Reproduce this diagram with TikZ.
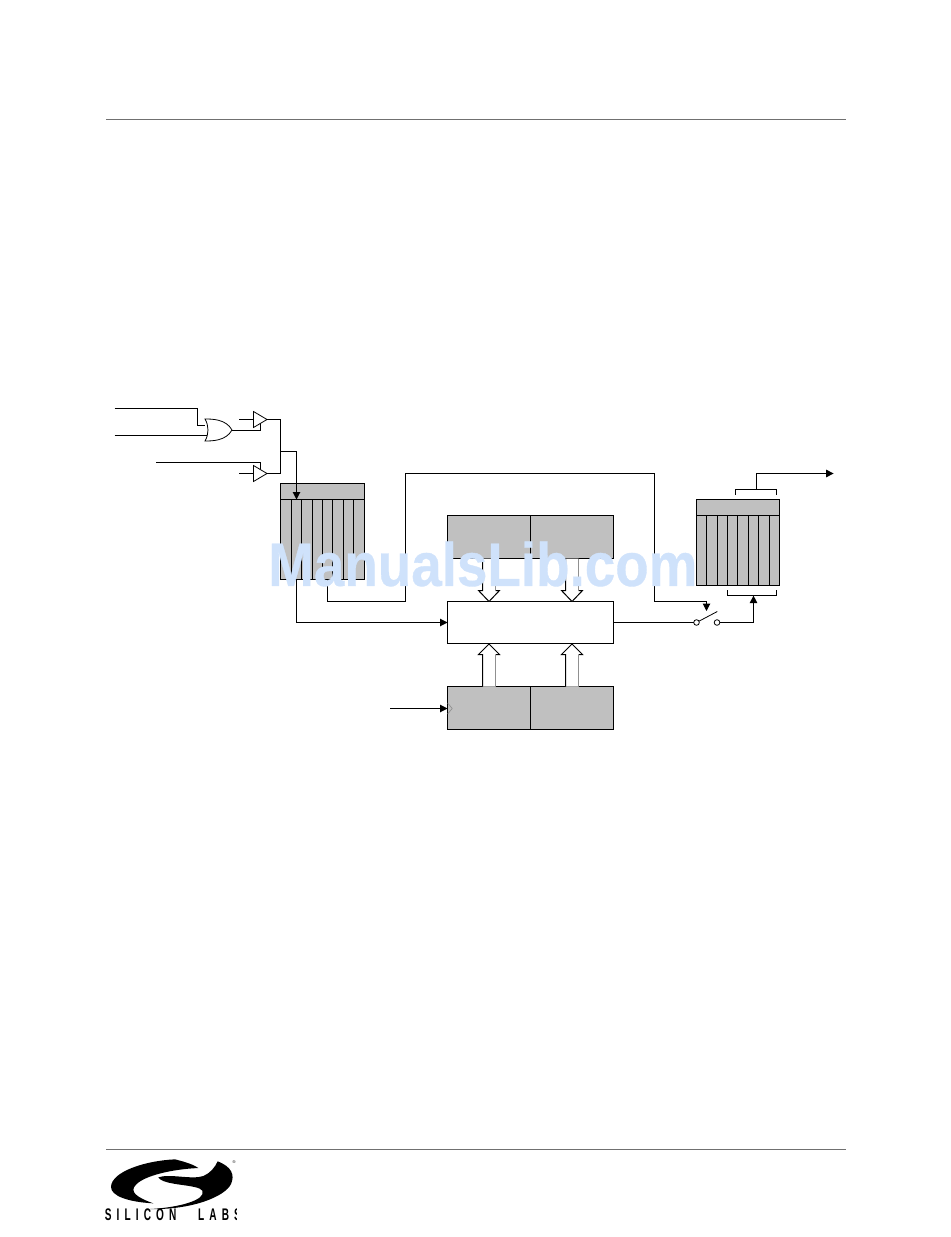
\documentclass[tikz,border=0pt]{standalone}
\usepackage{fontspec}
\setmainfont{Liberation Sans}
\usetikzlibrary{arrows.meta,calc}
\newdimen\pxu \pxu=.75pt
\tikzset{
  x=.75pt,y=-.75pt,
  wire/.style={line width=.75pt,line join=miter},
  flow/.style={wire,-{Triangle[length=5.6pt,width=5.6pt]}},
  regbox/.style={draw,line width=.75pt,fill=regfill,inner sep=0pt,outer sep=0pt,anchor=north west},
  plainbox/.style={regbox,fill=white},
  cellline/.style={line width=.75pt},
  pagerule/.style={line width=.75pt,draw=rulegray},
  swpin/.style={circle,draw,line width=.6pt,fill=white,inner sep=0pt,minimum size=4.2pt,outer sep=0pt},
  gateshape/.style={line width=.6pt,fill=white},
}
\definecolor{regfill}{HTML}{C0C0C0}
\definecolor{rulegray}{HTML}{707070}
\definecolor{wmark}{HTML}{CFE2FB}
\definecolor{softline}{HTML}{909090}
\begin{document}
\begin{tikzpicture}
\useasboundingbox (0,0) rectangle (950,1237);
% page rules
\coordinate (hl) at (106,119.5); \coordinate (hr) at (846,119.5);
\coordinate (fl) at (106,1149.5); \coordinate (fr) at (846,1149.5);
\draw[pagerule] (hl) -- (hr);
\draw[pagerule] (fl) -- (fr);

% left FIFO
\node[regbox,minimum width=84\pxu,minimum height=96\pxu] (lf) at (280.5,483.5) {};
\coordinate (lfh) at (280.5,499.5); \coordinate (lfhr) at (364.5,499.5);
\draw[cellline] (lfh) -- (lfhr);
\foreach \c in {291.5,301.5,312.5,322.5,332.5,343.5,353.5}
  \draw[cellline] (\c,499.5) -- (\c,579.5);

% right FIFO
\node[regbox,minimum width=83\pxu,minimum height=86\pxu] (rf) at (696.5,499.5) {};
\coordinate (rfh) at (696.5,515.5); \coordinate (rfhr) at (779.5,515.5);
\draw[cellline] (rfh) -- (rfhr);
\foreach \c in {706.5,717.5,727.5,737.5,748.5,758.5,769.5}
  \draw[cellline] (\c,515.5) -- (\c,585.5);

% centre blocks
\node[regbox,minimum width=83\pxu,minimum height=43\pxu] (ta) at (447.5,515.5) {};
\node[regbox,minimum width=83\pxu,minimum height=43\pxu] (tb) at (530.5,515.5) {};
\node[plainbox,minimum width=166\pxu,minimum height=42\pxu] (alu) at (447.5,601.5) {};
\node[regbox,minimum width=83\pxu,minimum height=43\pxu] (ba) at (447.5,686.5) {};
\node[regbox,minimum width=83\pxu,minimum height=43\pxu] (bb) at (530.5,686.5) {};

% hollow bus arrows
\foreach \xl/\nm in {482.5/a,565.5/b}{
  \coordinate (s\nm) at (\xl,558.5);
  \coordinate (sr\nm) at ($(s\nm)+(13,0)$);
  \coordinate (w\nm) at ($(s\nm)+(0,32)$);
  \coordinate (wr\nm) at ($(sr\nm)+(0,32)$);
  \coordinate (tip\nm) at ($(s\nm)+(6.5,43)$);
  \fill[white] (s\nm) -- (w\nm) -- ++(-4,0) -- (tip\nm) -- ($(wr\nm)+(4,0)$) -- (wr\nm) -- (sr\nm) -- cycle;
  \draw[wire] (s\nm) -- (w\nm) -- ++(-4,0) -- (tip\nm) -- ($(wr\nm)+(4,0)$) -- (wr\nm);
  \draw[wire,draw=softline] (wr\nm) -- (sr\nm);
}
\foreach \xl/\nm in {482.5/c,565.5/d}{
  \coordinate (s\nm) at (\xl,686.5);
  \coordinate (sr\nm) at ($(s\nm)+(13,0)$);
  \coordinate (w\nm) at ($(s\nm)+(0,-32)$);
  \coordinate (wr\nm) at ($(sr\nm)+(0,-32)$);
  \coordinate (tip\nm) at ($(s\nm)+(6.5,-42.5)$);
  \fill[white] (s\nm) -- (w\nm) -- ++(-4,0) -- (tip\nm) -- ($(wr\nm)+(4,0)$) -- (wr\nm) -- (sr\nm) -- cycle;
  \draw[wire] (s\nm) -- (w\nm) -- ++(-4,0) -- (tip\nm) -- ($(wr\nm)+(4,0)$) -- (wr\nm);
  \draw[wire,draw=softline] (wr\nm) -- (sr\nm);
}

% gate inputs
\coordinate (ina) at (114.5,408.5);
\coordinate (inb) at (114.5,435.5);
\coordinate (inc) at (156,462.5);
\coordinate (orA) at (205,425.5);
\coordinate (orB) at (207,435.5);
\coordinate (orOut) at (232,430.5);
\coordinate (bufa) at (253.5,419.5);
\coordinate (bufb) at (253.5,473.5);
\coordinate (bufaOut) at (267,419.5);
\coordinate (bufbOut) at (267,473.5);
\coordinate (ena) at (260.5,423);
\coordinate (enb) at (260.5,469);
\coordinate (stuba) at (239,419.5);
\coordinate (stubb) at (239,473.5);
\coordinate (joinT) at (280.5,419.5);
\coordinate (joinB) at (280.5,473.5);
\coordinate (joinM) at (280.5,451.5);
\coordinate (fifoIn) at (296.5,499.5);

\draw[wire] (ina) -| (197.5,425.5) -- (orA);
\draw[wire] (inb) -- (orB);
\draw[wire] (orOut) -| (ena);
\draw[wire] (inc) -| (enb);
\draw[wire] (stuba) -- (bufa);
\draw[wire] (stubb) -- (bufb);
\draw[wire] (bufaOut) -- (joinT) -- (joinB) -- (bufbOut);
\draw[gateshape] (253.5,411.5) -- (267,419.5) -- (253.5,427.5) -- cycle;
\draw[gateshape] (253.5,465.5) -- (267,473.5) -- (253.5,481.5) -- cycle;
\draw[gateshape] (205,419) .. controls (212,419) and (226,419) .. (232,430)
  .. controls (226,441) and (212,441) .. (205,441)
  .. controls (209,434) and (209,426) .. (205,419) -- cycle;
\draw[flow] (joinM) -| (fifoIn);

% FIFO to ALU and bypass
\coordinate (lfa) at (296.5,579.5);
\coordinate (lfb) at (327.5,579.5);
\coordinate (swc) at (706.5,611);
\draw[flow] (lfa) |- (alu.west);
\draw[flow] (lfb) |- (405.5,601.5) |- (654.5,473.5) |- (706.5,601.5) -- (swc);

% clock
\coordinate (clk) at (390,708.5);
\draw[flow] (clk) -- (clk -| ba.west);
\coordinate (ck1) at (447.6,703); \coordinate (ck2) at (452.2,708.5); \coordinate (ck3) at (447.6,714);
\draw[line width=.5pt,draw=softline] (ck1) -- (ck2) -- (ck3);

% switch
\node[swpin] (swa) at (696.5,622.5) {};
\node[swpin] (swb) at (717,622.5) {};
\coordinate (lever) at (717.3,611.5);
\coordinate (brk) at (753.5,595.6);
\draw[wire] (alu.east) -- (swa);
\draw[line width=.6pt] (swa) -- (lever);
\draw[flow] (swb) -| (brk);
\coordinate (brL) at (727.5,590); \coordinate (brR) at (776.5,590);
\draw[wire] (brL) |- (753,595.5) -| (brR);

% output
\coordinate (obL) at (735.5,494.5); \coordinate (obR) at (776.5,494.5);
\draw[wire] (obL) |- (756,489.5) -| (obR);
\coordinate (obM) at (756.5,489.5); \coordinate (out) at (833.6,473.5);
\draw[flow] (obM) |- (out);

% logo
\begin{scope}[shift={(95,1140)},x=.25pt,y=-.25pt]
\fill[black] (240,58) .. controls (150,62) and (50,95) .. (48,140)
  .. controls (47,168) and (100,186) .. (175,190)
  .. controls (125,172) and (100,155) .. (125,132)
  .. controls (150,108) and (225,88) .. (310,84)
  .. controls (290,70) and (255,62) .. (240,58) -- cycle;
\fill[black] (368,64) .. controls (410,80) and (420,105) .. (408,132)
  .. controls (390,170) and (290,210) .. (165,207)
  .. controls (250,203) and (335,180) .. (322,152)
  .. controls (310,132) and (205,138) .. (190,112)
  .. controls (225,100) and (290,120) .. (325,108)
  .. controls (345,100) and (360,82) .. (368,64) -- cycle;
\end{scope}
\node[inner sep=0pt,font=\fontsize{3pt}{3pt}\selectfont] (regmark) at (234,1162) {®};
\begin{scope}
\clip (100,1200) rectangle (236.5,1230);
\node[inner sep=0pt,anchor=west,font=\bfseries\fontsize{12.6pt}{12.6pt}\selectfont] (logotext) at (104.5,1214.5)
  {\scalebox{.6}[1]{\addfontfeature{LetterSpace=51}SILICON\hspace*{27pt}LABS}};
\end{scope}

% watermark
\node[inner sep=0pt,anchor=west,text=wmark,font=\bfseries\fontsize{46pt}{46pt}\selectfont] (wm) at (268,564)
  {\scalebox{.893}[1]{\addfontfeature{FakeBold=0.6}ManualsLib.com}};
\end{tikzpicture}
\end{document}
